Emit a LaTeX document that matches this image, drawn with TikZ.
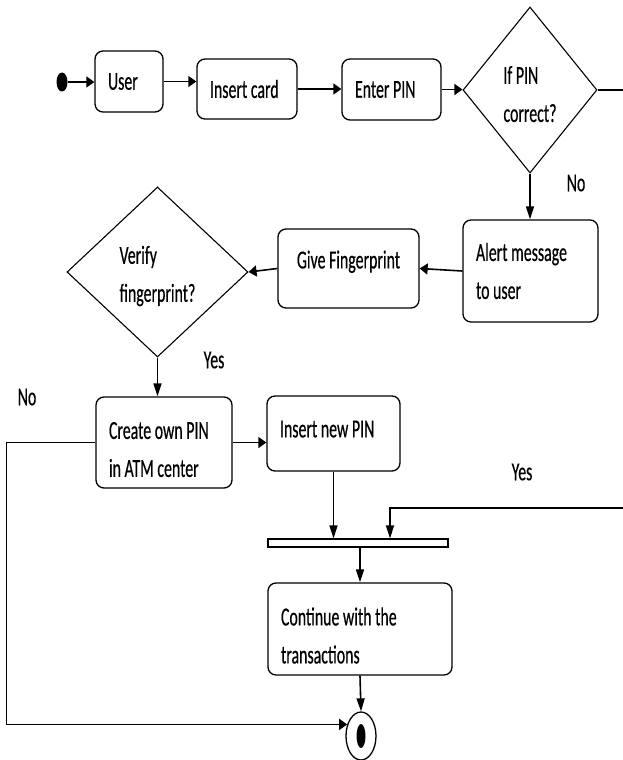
\documentclass[tikz,border=0pt]{standalone}
\usepackage{fontspec}
\setmainfont[FakeStretch=0.61, FakeBold=0.4]{Carlito}
\usetikzlibrary{arrows.meta,shapes.geometric}

\begin{document}
\begin{tikzpicture}[
  x=1pt, y=-1pt,
  >={Triangle[length=8pt, width=11pt]},
  font=\fontsize{26pt}{38pt}\selectfont,
  act/.style={draw, line width=1.3pt, rounded corners=8pt, fill=white,
              align=flush left, inner xsep=13pt, inner ysep=0pt},
  dec/.style={draw, diamond, line width=1.1pt, align=flush left,
              inner sep=0pt, text height=64pt},
  arr/.style={->, line width=1.6pt},
  varr/.style={arr, >={Triangle[length=13pt, width=8pt]}},
  lbl/.style={inner sep=0pt},
]
  \path[use as bounding box, fill=white] (0,0) rectangle (623,760);
  \clip (0,0) rectangle (623,760);

  % top row
  \node[ellipse, fill, minimum width=11pt, minimum height=19pt, inner sep=0pt] (start) at (62,82) {};
  \node[act, text width=42pt, minimum height=61pt] (user) at (129,81.5) {User};
  \node[act, text width=74pt, minimum height=60pt] (card) at (247,89) {Insert card};
  \node[act, text width=73pt, minimum height=61pt] (pin) at (391.5,89.5) {Enter PIN};
  \node[dec, minimum width=134pt, minimum height=166pt] (pincheck) at (530,90) {If PIN\\correct?};

  % fingerprint row
  \node[act, text width=109pt, minimum height=102pt] (alert) at (530.5,271) {Alert message\\to user};
  \node[act, align=flush center, text width=115pt, minimum height=79pt, text depth=18pt] (finger) at (348.5,268.5) {Give Fingerprint};
  \node[dec, minimum width=181pt, minimum height=170pt] (verify) at (157.5,272) {Verify\\fingerprint?};

  % new PIN and join
  \node[act, text width=110pt, minimum height=91pt, text height=31pt] (create) at (164,442.5) {Create own PIN\\in ATM center};
  \node[act, text width=107pt, minimum height=75pt, text depth=9pt] (newpin) at (333.5,433.5) {Insert new PIN};
  \node[draw, line width=1.1pt, fill=white, minimum width=180pt, minimum height=8pt, inner sep=0pt] (bar) at (358,543) {};
  \node[act, text width=158pt, minimum height=92pt, text height=31pt] (cont) at (360,629) {Continue with the\\transactions};
  \node[ellipse, draw, line width=1.3pt, minimum width=30pt, minimum height=48pt, inner sep=0pt] (final) at (361,736) {};
  \node[ellipse, fill, minimum width=9pt, minimum height=24pt, inner sep=0pt] (finaldot) at (final.center) {};

  % guard labels
  \node[lbl] (nopin) at (576,183) {No};
  \node[lbl] (yesfp) at (214,360) {Yes};
  \node[lbl] (nofp) at (27,397) {No};
  \node[lbl] (yespin) at (522,472) {Yes};

  \coordinate (yesturn) at (390,508);

  \draw[arr] (start) -- (start -| user.west);
  \draw[arr] (user.east) -- (user.east -| card.west);
  \draw[arr] (card.east) -- (card.east -| pin.west);
  \draw[arr] (pin.east) -- (pin.east -| pincheck.west);
  \draw[varr] (pincheck.south) -- (pincheck.south |- alert.north);
  \draw[arr] (alert.west) -- (finger.east);
  \draw[arr] (finger.west) -- (verify.east);
  \draw[varr] (verify.south) -- (verify.south |- create.north);
  \draw[arr] (create.east) -- (create.east -| newpin.west);
  \draw[varr] (newpin.south) -- (newpin.south |- bar.north);
  \draw[varr] (pincheck.east) -- ++(43pt,0) |- (yesturn) -- (yesturn |- bar.north);
  \draw[varr] (cont.north |- bar.south) -- (cont.north);
  \draw[varr] (cont.south) -- (final.north);
  \draw[arr] (create.west) -- ++(-89pt,0) |- (final.140);
\end{tikzpicture}
\end{document}
